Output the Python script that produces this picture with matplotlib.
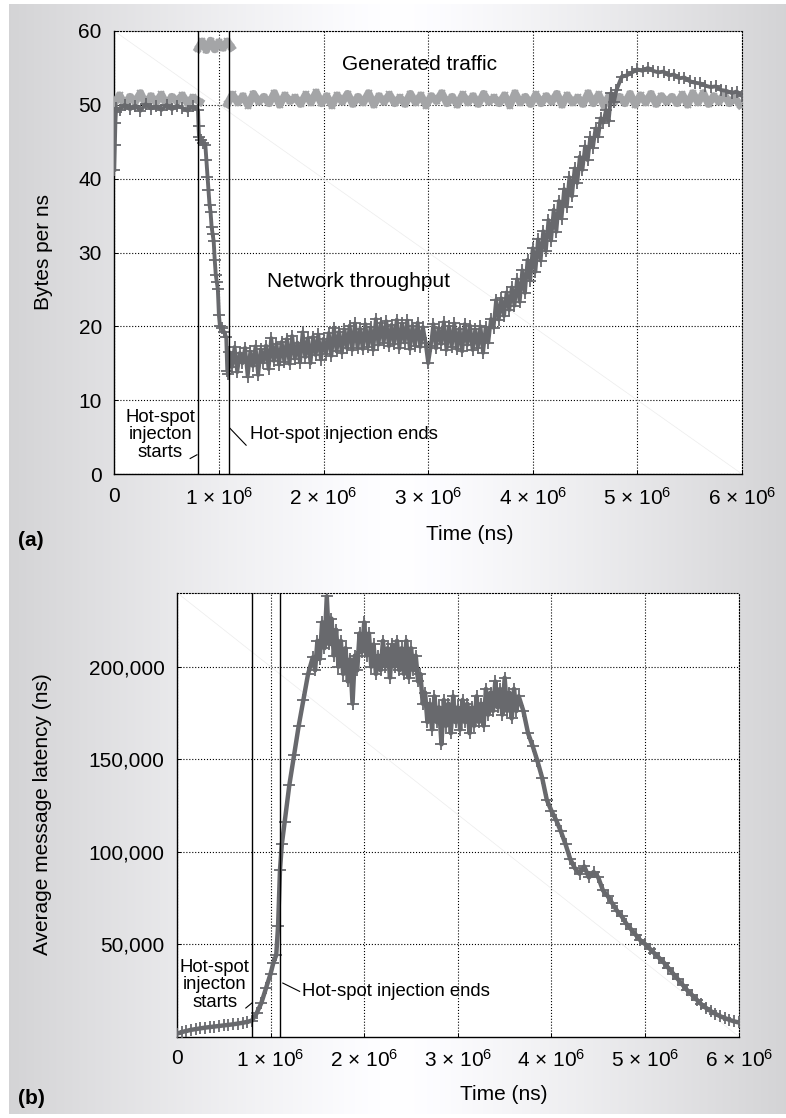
import numpy as np
import matplotlib
matplotlib.use('Agg')
import matplotlib.pyplot as plt

plt.rcParams['font.family'] = ['Liberation Sans', 'DejaVu Sans']
plt.rcParams['mathtext.fontset'] = 'custom'
plt.rcParams['mathtext.rm'] = 'Liberation Sans'
plt.rcParams['mathtext.it'] = 'Liberation Sans:italic'
plt.rcParams['mathtext.bf'] = 'Liberation Sans:bold'

# ---- data (time in units of 1e6 ns) ----
hotspot_start = 0.8
hotspot_end = 1.1

# generated traffic, three stretches (before / during / after hot-spot)
gen_pre_t = [0.0, 0.05, 0.10, 0.15, 0.20, 0.25, 0.30, 0.35, 0.40, 0.45, 0.50,
             0.55, 0.60, 0.65, 0.70, 0.75, 0.82]
gen_pre_v = [50.2, 51.3, 50.0, 51.1, 50.4, 51.6, 50.1, 51.2, 50.3, 51.4, 50.0,
             51.1, 50.5, 51.3, 50.2, 51.0, 50.4]
gen_hot_t = [0.80, 0.84, 0.88, 0.92, 0.96, 1.00, 1.04, 1.08, 1.12]
gen_hot_v = [57.6, 58.6, 57.4, 58.7, 57.5, 58.5, 57.7, 58.6, 57.8]
gen_post_t = np.round(np.arange(1.08, 6.001, 0.05), 3)
gen_post_v = [50.1, 51.4, 50.3, 51.2, 49.9, 51.5, 50.4, 51.1, 50.2, 51.6,
              50.0, 51.3, 50.5, 51.0, 50.1, 51.4, 50.3, 51.7, 50.2, 51.2,
              49.9, 51.3, 50.4, 51.5, 50.1, 51.1, 50.3, 51.6, 50.0, 51.2,
              50.4, 51.4, 50.2, 51.0, 50.1, 51.5, 50.3, 51.3, 49.9, 51.2,
              50.5, 51.6, 50.2, 51.1, 50.0, 51.4, 50.3, 51.2, 50.1, 51.5,
              50.4, 51.0, 50.2, 51.3, 49.9, 51.6, 50.3, 51.1, 50.1, 51.4,
              50.2, 51.2, 50.4, 51.5, 50.0, 51.3, 50.3, 51.0, 50.1, 51.6,
              50.2, 51.4, 49.9, 51.2, 50.4, 51.1, 50.2, 51.5, 50.0, 51.3,
              50.3, 51.5, 50.1, 51.2, 50.4, 51.1, 50.2, 51.4, 50.0, 51.6,
              50.3, 51.6, 50.1, 51.2, 50.4, 51.4, 50.2, 51.0, 50.0]

# network throughput
thr_t = [0.0, 0.005, 0.01, 0.015, 0.02,
         0.05, 0.10, 0.15, 0.20, 0.25, 0.30, 0.35, 0.40, 0.45, 0.50, 0.55,
         0.60, 0.65, 0.70, 0.75, 0.80,
         0.805, 0.81, 0.83, 0.85, 0.87, 0.88, 0.89, 0.90, 0.91, 0.92, 0.93,
         0.94, 0.95, 0.96, 0.97, 0.98, 0.99, 1.00, 1.01, 1.03, 1.05, 1.07,
         1.08, 1.09, 1.10,
         1.125, 1.15, 1.175, 1.20, 1.225, 1.25, 1.275, 1.30, 1.325, 1.35,
         1.375, 1.40, 1.425, 1.45, 1.475, 1.50, 1.525, 1.55, 1.575, 1.60,
         1.625, 1.65, 1.675, 1.70, 1.725, 1.75, 1.775, 1.80, 1.825, 1.85,
         1.875, 1.90, 1.925, 1.95, 1.975, 2.00, 2.025, 2.05, 2.075, 2.10,
         2.125, 2.15, 2.175, 2.20, 2.225, 2.25, 2.275, 2.30, 2.325, 2.35,
         2.375, 2.40, 2.425, 2.45, 2.475, 2.50, 2.525, 2.55, 2.575, 2.60,
         2.625, 2.65, 2.675, 2.70, 2.725, 2.75, 2.775, 2.80, 2.825, 2.85,
         2.875, 2.90, 2.925, 2.95, 2.975, 3.00, 3.025, 3.05, 3.075, 3.10,
         3.125, 3.15, 3.175, 3.20, 3.225, 3.25, 3.275, 3.30, 3.325, 3.35,
         3.375, 3.40, 3.425, 3.45, 3.475, 3.50, 3.525, 3.55, 3.575,
         3.60, 3.625, 3.65, 3.675, 3.70, 3.725, 3.75, 3.775, 3.80, 3.825,
         3.85, 3.875, 3.90, 3.925, 3.95, 3.975, 4.00, 4.025, 4.05, 4.075,
         4.10, 4.125, 4.15, 4.175, 4.20, 4.225, 4.25, 4.275, 4.30, 4.325,
         4.35, 4.375, 4.40, 4.425, 4.45, 4.475, 4.50, 4.525, 4.55, 4.575,
         4.60, 4.625, 4.65, 4.675, 4.70, 4.725, 4.75, 4.775,
         4.80, 4.85, 4.90, 4.95, 5.00, 5.05, 5.10, 5.15, 5.20, 5.25, 5.30,
         5.35, 5.40, 5.45, 5.50, 5.55, 5.60, 5.65, 5.70, 5.75, 5.80, 5.85,
         5.90, 5.95, 6.00]
thr_v = [41.2, 44.5, 47.5, 49.0, 49.6,
         49.3, 50.0, 49.4, 49.9, 49.2, 50.1, 49.5, 49.8, 49.3, 50.0, 49.4,
         49.9, 49.6, 49.2, 49.8, 49.3,
         47.2, 45.6, 45.2, 44.8, 44.6, 42.5, 40.2, 38.5, 36.5, 35.5, 33.5,
         32.5, 31.5, 29.0, 27.0, 26.0, 25.0, 21.5, 20.0, 19.8, 19.2, 18.5,
         14.0, 13.5, 16.5,
         14.5, 17.2, 13.8, 16.4, 15.0, 17.1, 13.2, 16.6, 14.6, 17.3,
         13.4, 16.9, 15.1, 17.4, 14.2, 18.4, 15.3, 17.6, 14.8, 17.9,
         15.2, 18.3, 14.9, 18.7, 15.6, 17.8, 15.1, 19.2, 15.8, 18.4,
         15.0, 18.6, 16.1, 18.9, 15.5, 18.3, 16.3, 19.1, 16.0, 19.8,
         16.6, 19.3, 16.4, 19.6, 17.0, 20.1, 16.8, 20.4, 17.1, 19.7,
         16.9, 20.3, 17.2, 19.9, 16.8, 21.0, 17.5, 20.5, 17.8, 20.7,
         17.3, 20.2, 17.6, 20.9, 17.0, 20.4, 17.8, 20.8, 16.9, 20.1,
         17.4, 20.5, 17.2, 19.9, 17.8, 15.0, 17.3, 20.3, 17.0, 19.8,
         17.6, 20.6, 16.8, 20.0, 17.2, 20.4, 16.9, 19.7, 16.6, 20.3,
         17.5, 20.1, 16.8, 19.6, 17.1, 20.0, 16.4, 19.9, 17.8,
         21.0, 19.8, 23.6, 20.9, 23.8, 21.4, 24.6, 22.2, 25.3, 22.8,
         26.4, 23.3, 27.6, 24.5, 29.0, 26.2, 30.6, 27.4, 31.8, 28.9,
         32.9, 30.2, 34.4, 31.6, 35.8, 32.8, 37.0, 34.6, 38.6, 36.2,
         40.2, 37.6, 41.4, 39.4, 43.0, 41.2, 44.4, 42.5, 45.6, 44.2,
         46.8, 45.7, 48.2, 47.6, 49.3, 47.8, 51.6, 50.4,
         52.0, 53.8, 54.0, 54.4, 54.8, 54.6, 55.0, 54.6, 54.4, 54.5, 54.0,
         54.1, 53.6, 53.7, 53.2, 53.0, 52.9, 52.6, 52.4, 52.5, 52.0, 51.9,
         51.6, 51.8, 51.2]

# average message latency (ns)
lat_t = [0.0, 0.05, 0.10, 0.15, 0.20, 0.25, 0.30, 0.35, 0.40, 0.45, 0.50,
         0.55, 0.60, 0.65, 0.70, 0.75, 0.80,
         0.85, 0.90, 0.95, 1.00, 1.03, 1.06, 1.08, 1.10, 1.12, 1.15, 1.20,
         1.25, 1.30, 1.35, 1.40, 1.45,
         1.475, 1.50, 1.525, 1.55, 1.575, 1.60, 1.625, 1.65, 1.675, 1.70,
         1.725, 1.75, 1.775, 1.80, 1.825, 1.85, 1.875, 1.90, 1.925, 1.95,
         1.975, 2.00, 2.025, 2.05, 2.075, 2.10, 2.125, 2.15, 2.175, 2.20,
         2.225, 2.25, 2.275, 2.30, 2.325, 2.35, 2.375, 2.40, 2.425, 2.45,
         2.475, 2.50, 2.525, 2.55, 2.575, 2.60, 2.625, 2.65, 2.675, 2.70,
         2.725, 2.75, 2.775, 2.80, 2.825, 2.85, 2.875, 2.90, 2.925, 2.95,
         2.975, 3.00, 3.025, 3.05, 3.075, 3.10, 3.125, 3.15, 3.175, 3.20,
         3.225, 3.25, 3.275, 3.30, 3.325, 3.35, 3.375, 3.40, 3.425, 3.45,
         3.475, 3.50, 3.525, 3.55, 3.575, 3.60, 3.625, 3.65,
         3.70, 3.75, 3.80, 3.85, 3.90, 3.95, 4.00, 4.05,
         4.10, 4.15, 4.20, 4.25, 4.30, 4.35, 4.40, 4.45, 4.50, 4.55, 4.60,
         4.65, 4.70, 4.75, 4.80, 4.85, 4.90, 4.95, 5.00, 5.05, 5.10, 5.15,
         5.20, 5.25, 5.30, 5.35, 5.40, 5.45, 5.50, 5.55, 5.60, 5.65, 5.70,
         5.75, 5.80, 5.85, 5.90, 5.95, 6.00]
lat_v = [1500, 2400, 3000, 3600, 4000, 4400, 4800, 5100, 5400, 5700, 6000,
         6300, 6600, 7000, 7400, 7900, 8600,
         12500, 18000, 26000, 34000, 40000, 44000, 60000, 90000, 104000,
         116000, 136000, 152000, 168000, 182000, 196000, 205000,
         198000, 214000, 204000, 224000, 210000, 238000, 212000, 226000,
         206000, 220000, 200000, 214000, 196000, 210000, 192000, 204000,
         180000, 206000, 198000, 218000, 208000, 224000, 206000, 218000,
         200000, 212000, 196000, 206000, 198000, 214000, 200000, 210000,
         194000, 212000, 200000, 214000, 198000, 210000, 196000, 214000,
         194000, 210000, 198000, 206000, 192000, 196000, 180000, 186000,
         170000, 180000, 166000, 184000, 170000, 178000, 158000, 182000,
         168000, 180000, 164000, 184000, 170000, 178000, 166000, 182000,
         170000, 180000, 164000, 178000, 168000, 184000, 170000, 180000,
         168000, 188000, 174000, 186000, 176000, 192000, 178000, 188000,
         174000, 194000, 176000, 186000, 172000, 188000, 176000, 184000,
         176000, 164000, 157000, 149000, 140000, 128000, 122000, 117000,
         111000, 104000, 96000, 91000, 88000, 92000, 86000, 89000, 86000,
         79000, 76000, 72000, 68000, 65000, 61000, 58000, 55000, 52000,
         50000, 47500, 45000, 42500, 40000, 37000, 34000, 31000, 28000,
         25000, 22500, 20000, 17500, 15500, 13800, 12300, 11000, 10000,
         9000, 8200, 7600]

x_ticks = [0, 1, 2, 3, 4, 5, 6]
x_tick_labels = ['0'] + ['%d × 10$^{6}$' % k for k in x_ticks[1:]]
thr_y_ticks = [0, 10, 20, 30, 40, 50, 60]
lat_y_ticks = [50000, 100000, 150000, 200000]
lat_y_labels = ['50,000', '100,000', '150,000', '200,000']

M = 1e6
dark = '#68696d'
light = '#a4a5a7'

W, H = 786, 1118
fig = plt.figure(figsize=(W / 100, H / 100), dpi=100)


def px(x0, y0, x1, y1):
    # pixel box -> figure fraction rect
    return [x0 / W, 1 - y1 / H, (x1 - x0) / W, (y1 - y0) / H]


# gradient backdrop
bg = fig.add_axes(px(9, 4, W, 1114), zorder=-10)
xx = np.linspace(-1, 1, 400)
shade = 1 - 0.17 * np.abs(xx) ** 1.2
grad = np.dstack([shade * 0.995 + 0.005, shade * 0.997 + 0.003, np.minimum(shade * 1.01, 1)])
bg.imshow(np.repeat(grad, 2, axis=0), aspect='auto', extent=[0, 1, 0, 1])
bg.set_axis_off()

ax1 = fig.add_axes(px(114.3, 31, 742, 474))
ax2 = fig.add_axes(px(177, 592.7, 738.7, 1036.5))


def style(ax):
    ax.set_facecolor('white')
    ax.grid(True, ls=':', color='black', lw=0.8)
    ax.set_axisbelow(True)
    for s in ['top', 'right']:
        ax.spines[s].set_linestyle(':')
        ax.spines[s].set_linewidth(0.8)
    for s in ['left', 'bottom']:
        ax.spines[s].set_linewidth(1.0)
    ax.tick_params(direction='in', length=3, width=0.7, labelsize=15, pad=9)
    ax.set_xlim(0, 6 * M)
    ax.set_xticks([k * M for k in x_ticks])
    ax.set_xticklabels(x_tick_labels)
    # faint scanning diagonal
    ax.plot([0, 1], [1, 0], transform=ax.transAxes, color='#ececec', lw=0.5, zorder=1)


# ---- (a) throughput ----
style(ax1)
for tt, vv in [(gen_pre_t, gen_pre_v), (gen_hot_t, gen_hot_v), (gen_post_t, gen_post_v)]:
    ax1.plot(np.array(tt) * M, vv, color=light, lw=5.5, marker='x', ms=5, mew=1.2,
             solid_joinstyle='round', zorder=3)
ax1.plot(np.array(thr_t) * M, thr_v, color=dark, lw=2.8, marker='+', ms=8, mew=1.3,
         solid_joinstyle='round', zorder=4)
for t in [hotspot_start, hotspot_end]:
    ax1.axvline(t * M, color='black', lw=1.0, zorder=5)
ax1.set_ylim(0, 60)
ax1.set_yticks(thr_y_ticks)
ax1.set_ylabel('Bytes per ns', fontsize=15)
ax1.yaxis.set_label_coords(-0.098, 0.5)
ax1.set_xlabel('Time (ns)', fontsize=15)
ax1.xaxis.set_label_coords(0.567, -0.115)

ax1.text(2.18 * M, 55.4, 'Generated traffic', fontsize=15, va='center', ha='left')
ax1.text(1.46 * M, 26.1, 'Network throughput', fontsize=15, va='center', ha='left')
ax1.text(0.44 * M, 5.3, 'Hot-spot\ninjecton\nstarts', fontsize=13.3, ha='center',
         va='center', linespacing=1.05)
ax1.plot([0.725 * M, 0.79 * M], [2.1, 2.6], color='black', lw=0.8, zorder=6)
ax1.text(1.3 * M, 5.3, 'Hot-spot injection ends', fontsize=13.3, va='center', ha='left')
ax1.plot([1.105 * M, 1.26 * M], [6.2, 3.9], color='black', lw=0.8, zorder=6)

# ---- (b) latency ----
style(ax2)
ax2.plot(np.array(lat_t) * M, lat_v, color=dark, lw=3.2, marker='+', ms=8, mew=1.3,
         solid_joinstyle='round', zorder=4)
for t in [hotspot_start, hotspot_end]:
    ax2.axvline(t * M, color='black', lw=1.0, zorder=5)
ax2.set_ylim(0, 240000)
ax2.set_yticks(lat_y_ticks)
ax2.set_yticklabels(lat_y_labels)
ax2.set_ylabel('Average message latency (ns)', fontsize=15)
ax2.yaxis.set_label_coords(-0.222, 0.5)
ax2.set_xlabel('Time (ns)', fontsize=15)
ax2.xaxis.set_label_coords(0.581, -0.11)

ax2.text(0.405 * M, 28000, 'Hot-spot\ninjecton\nstarts', fontsize=13.3, ha='center',
         va='center', linespacing=1.05)
ax2.plot([0.735 * M, 0.80 * M], [15400, 18100], color='black', lw=0.8, zorder=6)
ax2.text(1.33 * M, 24400, 'Hot-spot injection ends', fontsize=13.3, va='center', ha='left')
ax2.plot([1.13 * M, 1.31 * M], [28900, 24400], color='black', lw=0.8, zorder=6)

fig.text(18 / W, 1 - 541 / H, '(a)', fontsize=15, fontweight='bold', va='center')
fig.text(18 / W, 1 - 1099 / H, '(b)', fontsize=15, fontweight='bold', va='center')

fig.savefig('out.png', dpi=100)
